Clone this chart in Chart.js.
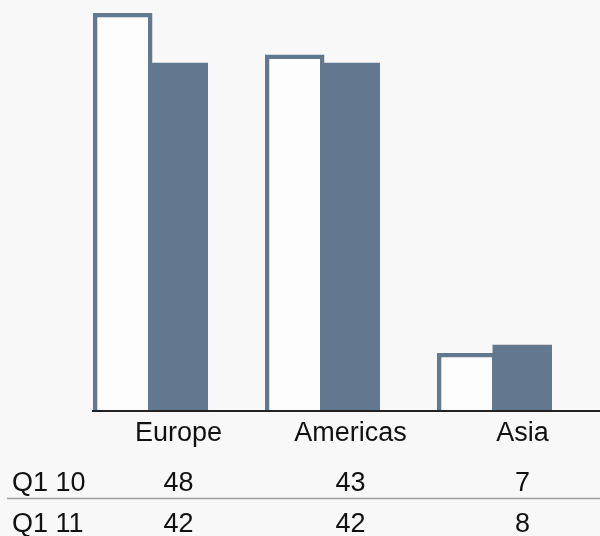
<!DOCTYPE html>
<html>
<head>
<meta charset="utf-8">
<script src="https://cdn.jsdelivr.net/npm/chart.js@4"></script>
<style>
  html, body { margin: 0; padding: 0; background: #f8f8f8; }
  #wrap { width: 600px; height: 536px; position: relative; }
</style>
</head>
<body>
<div id="wrap"><canvas id="c"></canvas></div>
<script>
const categories = ["Europe", "Americas", "Asia"];
const seriesNames = ["Q1 10", "Q1 11"];
const q110 = [48, 43, 7];
const q111 = [42, 42, 8];

const barColor = "#62788f";
const LABEL_OFFSET = 28;
const FONT_FAMILY = "'Liberation Sans', Arial, sans-serif";
const FONT_SIZE = 27;

const tablePlugin = {
  id: "tablePlugin",
  beforeDraw(chart) {
    const ctx = chart.ctx;
    ctx.save();
    ctx.fillStyle = "#f8f8f8";
    ctx.fillRect(0, 0, chart.width, chart.height);
    ctx.restore();
  },
  afterDatasetsDraw(chart) {
    const ctx = chart.ctx;
    const x = chart.scales.x;
    const area = chart.chartArea;
    ctx.save();
    // axis line
    ctx.strokeStyle = "#222";
    ctx.lineWidth = 2;
    ctx.beginPath();
    ctx.moveTo(92, area.bottom);
    ctx.lineTo(600, area.bottom);
    ctx.stroke();
    // table
    const rows = [q110, q111];
    const baselines = [490.5, 532];
    ctx.font = FONT_SIZE + "px " + FONT_FAMILY;
    ctx.fillStyle = "#111";
    ctx.textBaseline = "alphabetic";
    rows.forEach((vals, r) => {
      ctx.textAlign = "left";
      ctx.fillText(seriesNames[r], 12, baselines[r]);
      ctx.textAlign = "center";
      vals.forEach((v, i) => {
        ctx.fillText(String(v), x.getPixelForValue(i) + LABEL_OFFSET, baselines[r]);
      });
    });
    // separator
    ctx.strokeStyle = "#a0a0a0";
    ctx.lineWidth = 1.5;
    ctx.beginPath();
    ctx.moveTo(7, 498.5);
    ctx.lineTo(600, 498.5);
    ctx.stroke();
    ctx.restore();
  }
};

new Chart(document.getElementById("c"), {
  type: "bar",
  data: {
    labels: categories,
    datasets: [
      {
        label: seriesNames[0],
        data: q110,
        backgroundColor: "#fdfdfd",
        borderColor: barColor,
        borderWidth: 4.5,
        borderSkipped: "start"
      },
      {
        label: seriesNames[1],
        data: q111,
        backgroundColor: barColor,
        borderWidth: 0
      }
    ]
  },
  options: {
    responsive: true,
    maintainAspectRatio: false,
    animation: false,
    devicePixelRatio: 1,
    categoryPercentage: 0.6453,
    barPercentage: 1.072,
    layout: { padding: { left: 64.5, right: 19.5, top: 13, bottom: 0 } },
    plugins: { legend: { display: false }, tooltip: { enabled: false } },
    scales: {
      x: {
        grid: { display: false, drawTicks: false },
        border: { display: false },
        ticks: {
          color: "#111",
          font: { family: FONT_FAMILY, size: FONT_SIZE },
          padding: 6,
          labelOffset: LABEL_OFFSET,
          maxRotation: 0
        },
        afterFit(scale) { scale.height = 125; }
      },
      y: {
        display: false,
        min: 0,
        max: 48
      }
    }
  },
  plugins: [tablePlugin]
});
</script>
</body>
</html>
